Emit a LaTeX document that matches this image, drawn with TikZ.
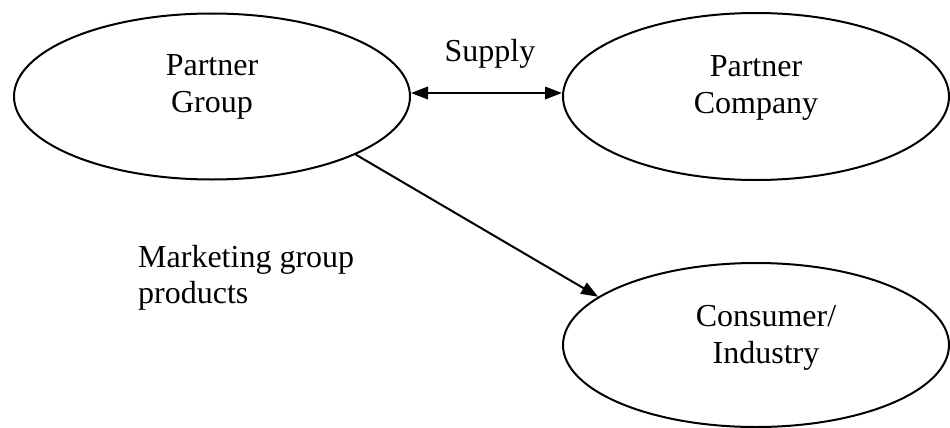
\documentclass[tikz,border=0pt]{standalone}
\usepackage{fontspec}
\setmainfont{Liberation Serif}
\usetikzlibrary{arrows.meta,shapes.geometric}

\tikzset{
  oval/.style={ellipse, draw=black, line width=2pt, inner sep=0pt},
  lbl/.style={align=center, inner sep=0pt, font=\fontsize{32pt}{37pt}\selectfont},
  note/.style={align=left, inner sep=0pt, font=\fontsize{32pt}{36pt}\selectfont},
  link/.style={line width=2pt, -{Triangle[length=17pt,width=12.5pt]}},
  twoway/.style={line width=2pt, {Triangle[length=17pt,width=12.5pt]}-{Triangle[length=17pt,width=12.5pt]}}
}

\begin{document}
\begin{tikzpicture}[x=1pt, y=-1pt]
  \useasboundingbox[fill=white] (0,0) rectangle (950,428);

  % the three parties
  \node[oval, minimum width=396pt, minimum height=166pt] (pg) at (212,96.5) {};
  \node[oval, minimum width=386pt, minimum height=167pt] (pc) at (756,96.5) {};
  \node[oval, minimum width=386pt, minimum height=164pt] (ci) at (756,345) {};

  % their labels
  \node[lbl] (pgtext) at ([yshift=10pt]pg.center) {Partner\\Group};
  \node[lbl] (pctext) at ([yshift=9pt]pc.center) {Partner\\Company};
  \node[lbl] (citext) at ([xshift=10pt,yshift=7pt]ci.center) {Consumer/\\Industry};

  % relations
  \draw[twoway] ([yshift=3.5pt]pg.east) -- ([yshift=3.5pt]pc.west);
  \node[lbl, anchor=base] (supply) at (490,62) {Supply};

  \draw[link] (pg.-22.5) -- (ci.163.4);
  \node[note, anchor=base west] (market) at (138,303) {Marketing group\\products};
\end{tikzpicture}
\end{document}
